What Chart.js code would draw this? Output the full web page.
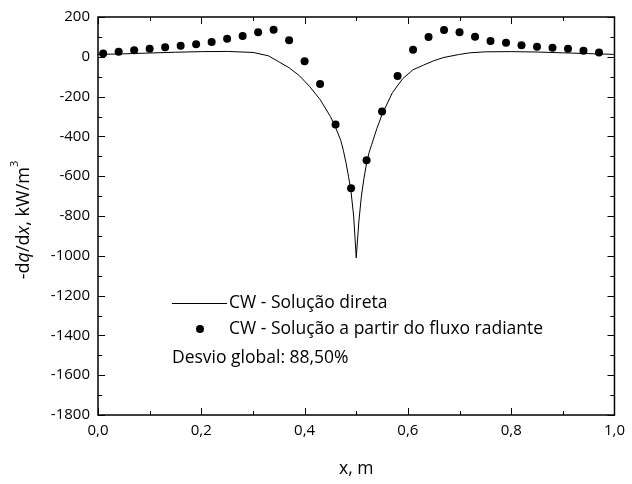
<!DOCTYPE html>
<html>
<head>
<meta charset="utf-8">
<script src="https://cdn.jsdelivr.net/npm/chart.js@4"></script>
<style>
  html, body { margin: 0; padding: 0; background: #fff; }
  #wrap { width: 632px; height: 484px; }
</style>
</head>
<body>
<div id="wrap"><canvas id="chart" width="632" height="484"></canvas></div>
<script>
// direct solution (line)
const curveX = [0, 0.05, 0.1, 0.15, 0.2, 0.25, 0.3, 0.33, 0.35, 0.37, 0.39, 0.41, 0.43, 0.45, 0.46, 0.47, 0.475, 0.48, 0.485, 0.49, 0.495, 0.5,
                0.505, 0.51, 0.515, 0.52, 0.525, 0.53, 0.54, 0.55, 0.57, 0.59, 0.61, 0.63, 0.65, 0.67, 0.7, 0.72, 0.75, 0.8, 0.85, 0.9, 0.95, 1.0];
const curveY = [12, 15, 19, 23, 26, 27, 22, 5, -25, -55, -95, -150, -215, -300, -355, -420, -470, -530, -600, -680, -800, -1010,
                -830, -700, -610, -535, -480, -440, -360, -290, -180, -110, -65, -42, -20, -3, 12, 20, 25, 26, 24, 20, 16, 12];

// solution from radiant flux (dots)
const pointX = [0.01, 0.04, 0.07, 0.10, 0.13, 0.16, 0.19, 0.22, 0.25, 0.28, 0.31, 0.34, 0.37, 0.40, 0.43, 0.46, 0.49,
                0.52, 0.55, 0.58, 0.61, 0.64, 0.67, 0.70, 0.73, 0.76, 0.79, 0.82, 0.85, 0.88, 0.91, 0.94, 0.97];
const pointY = [17, 25, 33, 40, 48, 56, 63, 75, 91, 105, 123, 136, 83, -22, -137, -340, -660,
                -520, -275, -97, 35, 100, 135, 123, 101, 80, 70, 58, 51, 46, 40, 31, 21];

const xTicks = [0, 0.2, 0.4, 0.6, 0.8, 1.0];
const yTicks = [200, 0, -200, -400, -600, -800, -1000, -1200, -1400, -1600, -1800];
const seriesLabels = ["CW - Solução direta", "CW - Solução a partir do fluxo radiante"];
const noteText = "Desvio global: 88,50%";

const FONT = "'Open Sans', Lato, sans-serif";

const toXY = (xs, ys) => xs.map((x, i) => ({ x: x, y: ys[i] }));

// box, inward ticks, titles and legend
const framePlugin = {
  id: "frame",
  afterDraw(chart) {
    const ctx = chart.ctx;
    const a = chart.chartArea;
    const xs = chart.scales.x, ys = chart.scales.y;
    ctx.save();
    ctx.strokeStyle = "#000";
    ctx.lineWidth = 1.5;
    ctx.strokeRect(a.left, a.top, a.right - a.left, a.bottom - a.top);

    ctx.lineWidth = 1;
    ctx.beginPath();
    for (let v = 0; v <= 10; v++) {
      const px = Math.round(xs.getPixelForValue(v / 10)) + 0.5;
      const len = v % 2 === 0 ? 7 : 4;
      ctx.moveTo(px, a.bottom); ctx.lineTo(px, a.bottom - len);
      ctx.moveTo(px, a.top); ctx.lineTo(px, a.top + len);
    }
    for (let v = 200; v >= -1800; v -= 100) {
      const py = Math.round(ys.getPixelForValue(v)) + 0.5;
      const len = v % 200 === 0 ? 7 : 4;
      ctx.moveTo(a.left, py); ctx.lineTo(a.left + len, py);
      ctx.moveTo(a.right, py); ctx.lineTo(a.right - len, py);
    }
    ctx.stroke();

    ctx.fillStyle = "#000";
    ctx.textBaseline = "middle";

    // x title
    ctx.font = "17.5px " + FONT;
    ctx.textAlign = "center";
    ctx.fillText("x, m", (a.left + a.right) / 2, 469);

    // y title with italic q and x, superscript 3
    const parts = [
      ["-d", "18px " + FONT, 0],
      ["q", "italic 18px " + FONT, 0],
      ["/d", "18px " + FONT, 0],
      ["x", "italic 18px " + FONT, 0],
      [", kW/m", "18px " + FONT, 0],
      ["3", "11px " + FONT, -9]
    ];
    let total = 0;
    parts.forEach(p => { ctx.font = p[1]; total += ctx.measureText(p[0]).width; });
    ctx.translate(24, (a.top + a.bottom) / 2 + 4);
    ctx.rotate(-Math.PI / 2);
    ctx.textAlign = "left";
    let cx = -total / 2;
    parts.forEach(p => {
      ctx.font = p[1];
      ctx.fillText(p[0], cx, p[2]);
      cx += ctx.measureText(p[0]).width;
    });
    ctx.setTransform(1, 0, 0, 1, 0, 0);

    // legend
    ctx.font = "17.5px " + FONT;
    ctx.textAlign = "left";
    ctx.lineWidth = 1;
    ctx.beginPath();
    ctx.moveTo(172, 303.5); ctx.lineTo(227, 303.5);
    ctx.stroke();
    ctx.fillText(chart.data.datasets[0].label, 229, 303);
    ctx.beginPath();
    ctx.arc(200, 329, 4, 0, Math.PI * 2);
    ctx.fill();
    ctx.fillText(chart.data.datasets[1].label, 229, 329);
    ctx.fillText(noteText, 172, 358);
    ctx.restore();
  }
};

new Chart(document.getElementById("chart"), {
  type: "scatter",
  data: {
    datasets: [
      {
        label: seriesLabels[0],
        data: toXY(curveX, curveY),
        showLine: true,
        borderColor: "#000",
        borderWidth: 1,
        pointRadius: 0,
        tension: 0,
        order: 2
      },
      {
        label: seriesLabels[1],
        data: toXY(pointX, pointY),
        showLine: false,
        backgroundColor: "#000",
        borderWidth: 0,
        pointRadius: 4,
        order: 1
      }
    ]
  },
  options: {
    responsive: false,
    animation: false,
    layout: { padding: { left: 0, right: 14, top: 15, bottom: 0 } },
    plugins: { legend: { display: false }, tooltip: { enabled: false } },
    scales: {
      x: {
        type: "linear",
        min: 0, max: 1,
        afterBuildTicks: s => { s.ticks = xTicks.map(v => ({ value: v })); },
        afterFit: s => { s.height = 69; },
        grid: { display: false, drawTicks: false },
        border: { display: false },
        ticks: {
          color: "#000",
          font: { family: FONT, size: 15 },
          padding: 7,
          maxRotation: 0,
          callback: v => v.toFixed(1).replace(".", ",")
        }
      },
      y: {
        type: "linear",
        min: -1800, max: 200,
        afterBuildTicks: s => { s.ticks = yTicks.map(v => ({ value: v })); },
        afterFit: s => { s.width = 98; },
        grid: { display: false, drawTicks: false },
        border: { display: false },
        ticks: {
          color: "#000",
          font: { family: FONT, size: 15 },
          padding: 8,
          callback: v => String(v)
        }
      }
    }
  },
  plugins: [framePlugin]
});
</script>
</body>
</html>
